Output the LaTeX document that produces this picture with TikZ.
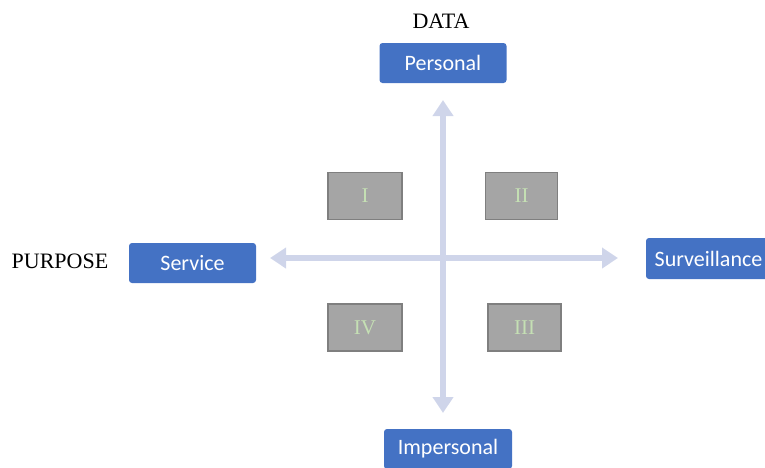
\documentclass[tikz,border=0pt]{standalone}
\usepackage{fontspec}
\setmainfont{Liberation Serif}
\newfontfamily\boxfont{Carlito}
\usepackage{xcolor}
\usetikzlibrary{arrows.meta}

\definecolor{axisblue}{HTML}{4472C4}
\definecolor{axisline}{HTML}{CFD5EA}
\definecolor{quadfill}{HTML}{A5A5A5}
\definecolor{quadedge}{HTML}{7F7F7F}
\definecolor{quadtext}{HTML}{C5E0B4}

\begin{document}
\begin{tikzpicture}[x=1pt, y=-1pt, >={Triangle[width=20pt,length=16pt]},
  pole/.style={fill=axisblue, rounded corners=3pt, text=white, inner sep=0pt,
    minimum width=127pt, minimum height=40pt, font=\boxfont\fontsize{22}{26}\selectfont},
  quad/.style={fill=quadfill, draw=quadedge, line width=1.5pt, text=quadtext, inner sep=0pt,
    minimum width=74pt, minimum height=47pt, font=\fontsize{21}{25}\selectfont},
  title/.style={font=\fontsize{22}{26}\selectfont, inner sep=0pt},
  axis/.style={<->, draw=axisline, line width=6pt}]
\useasboundingbox (0,0) rectangle (765,467);

% axes
\coordinate (top) at (443,100);
\coordinate (bot) at (443,413);
\coordinate (lft) at (270,258);
\coordinate (rgt) at (618,258);
\draw[axis] (top) -- (bot);
\draw[axis] (lft) -- (rgt);

% poles
\node[pole] (personal) at (443,63) {Personal};
\node[pole] (service) at (192.5,263) {Service};
\node[pole, minimum width=125pt, minimum height=41pt] (surv) at (708.5,258.5) {Surveillance};
\node[pole, minimum width=128pt] (impers) at (448,449) {Impersonal};

% labels
\node[title] (data) at (441,21) {DATA};
\node[title] (purpose) at (60,261) {PURPOSE};

% quadrants
\node[quad] (q1) at (365,196) {I};
\node[quad, minimum width=72pt] (q2) at (521.5,196) {II};
\node[quad, minimum width=73pt] (q3) at (524.5,327.5) {III};
\node[quad] (q4) at (365,327.5) {IV};
\end{tikzpicture}
\end{document}
